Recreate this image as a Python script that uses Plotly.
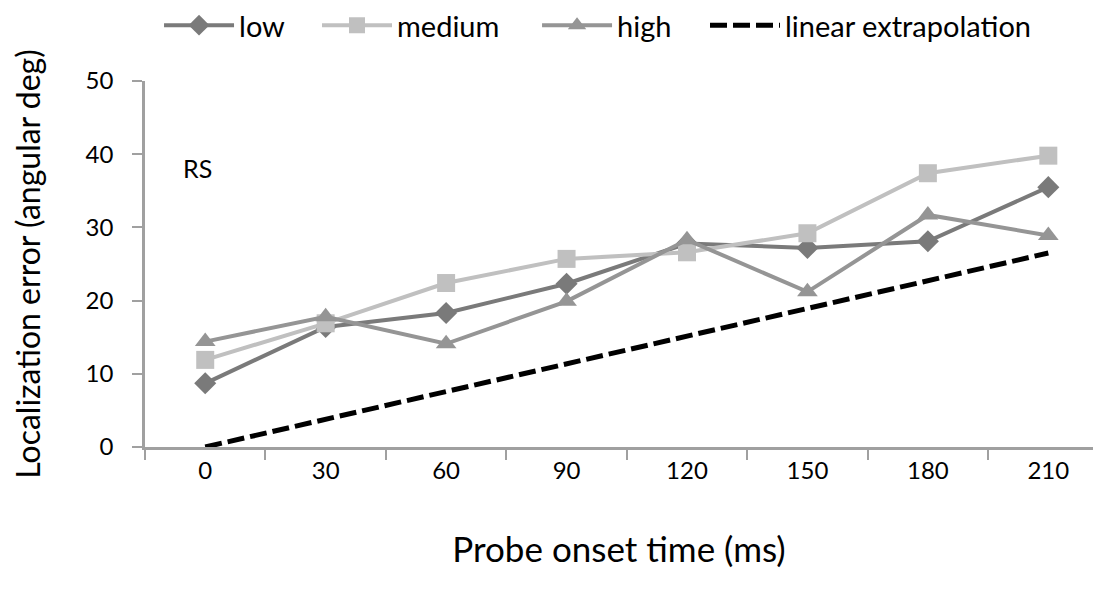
import plotly.graph_objects as go

categories = ["0", "30", "60", "90", "120", "150", "180", "210"]
low = [8.7, 16.4, 18.3, 22.3, 27.8, 27.2, 28.1, 35.5]
medium = [11.9, 16.9, 22.4, 25.7, 26.6, 29.2, 37.4, 39.8]
high = [14.4, 17.8, 14.1, 19.9, 28.3, 21.2, 31.7, 28.9]
linear = [0.0, 3.8, 7.6, 11.4, 15.1, 18.9, 22.7, 26.5]

FONT = "Lato"

fig = go.Figure()
fig.add_trace(go.Scatter(x=categories, y=low, name="low", mode="lines+markers",
                         line=dict(color="#7a7a7a", width=4), legend="legend",
                         marker=dict(symbol="diamond", size=17, color="#7a7a7a")))
fig.add_trace(go.Scatter(x=categories, y=medium, name="medium", mode="lines+markers",
                         line=dict(color="#c0c0c0", width=4), legend="legend2",
                         marker=dict(symbol="square", size=18, color="#c0c0c0")))
fig.add_trace(go.Scatter(x=categories, y=high, name="high", mode="lines+markers",
                         line=dict(color="#959595", width=4), legend="legend3",
                         marker=dict(symbol="triangle-up", size=18, color="#959595")))
fig.add_trace(go.Scatter(x=categories, y=linear, name="linear extrapolation", mode="lines",
                         line=dict(color="black", width=5, dash="17px,6px"), legend="legend4"))

fig.add_annotation(x=0, y=38.1, xref="x", yref="y", text="RS", showarrow=False,
                   xshift=-8, font=dict(family=FONT, size=25, color="black"))


def leg(xfrac):
    return dict(orientation="h", x=xfrac, xanchor="left", y=0.97, yanchor="middle",
                xref="container", yref="container", font=dict(size=29),
                itemwidth=70, bgcolor="rgba(0,0,0,0)")


fig.update_layout(
    width=1085, height=579,
    margin=dict(l=137, r=0, t=73, b=140),
    plot_bgcolor="white", paper_bgcolor="white",
    font=dict(family=FONT, size=24, color="black"),
    legend=leg(0.1392), legend2=leg(0.2848), legend3=leg(0.4876), legend4=leg(0.6424),
    showlegend=True,
)

fig.update_xaxes(type="category", range=[-0.5, 7.371], tickson="boundaries",
                 ticks="outside", ticklen=10, tickwidth=2, tickcolor="#a0a0a0",
                 showline=True, linecolor="#a0a0a0", linewidth=2.5, showgrid=False,
                 zeroline=False, tickfont=dict(size=24), automargin=False,
                 title=dict(text="Probe onset time (ms)", font=dict(size=35), standoff=55))
fig.update_yaxes(range=[0, 50], tickvals=[0, 10, 20, 30, 40, 50],
                 ticks="outside", ticklen=10, tickwidth=2, tickcolor="#a0a0a0",
                 showline=True, linecolor="#a0a0a0", linewidth=2.5, showgrid=False,
                 zeroline=False, tickfont=dict(size=24), automargin=False,
                 ticklabelstandoff=14,
                 title=dict(text="Localization error (angular deg)", font=dict(size=32), standoff=53))

fig.write_html("out.html")
